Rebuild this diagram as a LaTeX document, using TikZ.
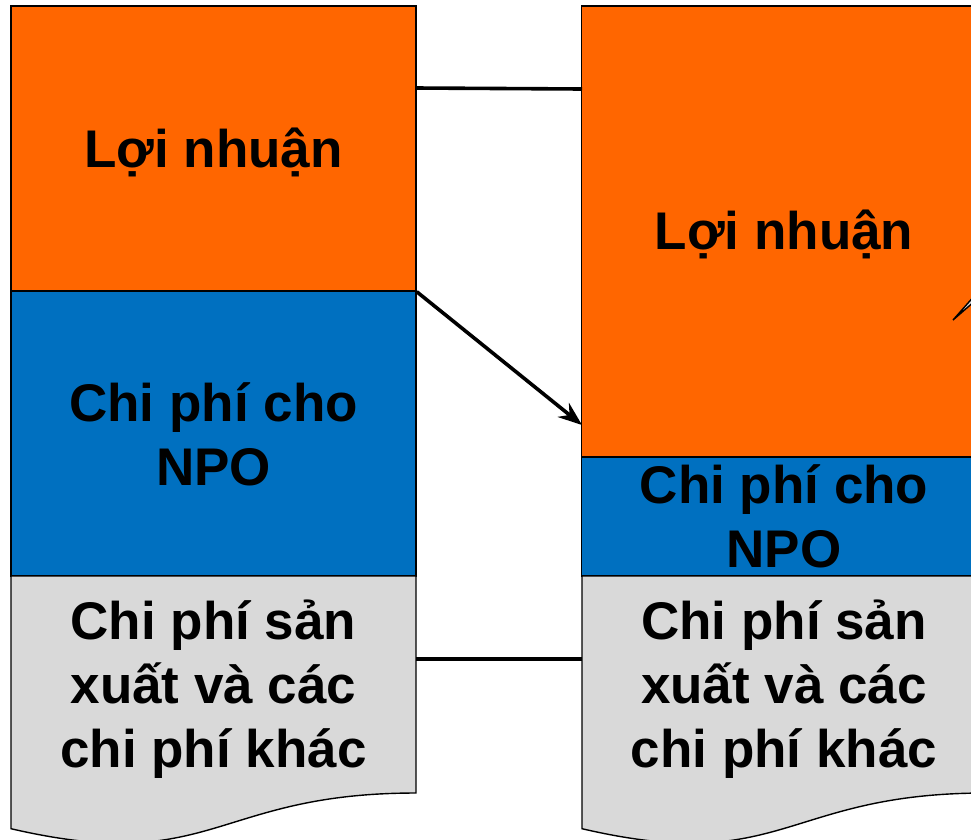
\documentclass[tikz,border=0pt]{standalone}
\usepackage{fontspec}
\setmainfont{Liberation Sans}
\usetikzlibrary{arrows.meta}
\definecolor{profit}{HTML}{FF6600}
\definecolor{npo}{HTML}{0070C0}
\definecolor{prod}{HTML}{D9D9D9}
\tikzset{
  block/.style={draw=black, line width=1.4pt, inner sep=0pt, minimum width=405pt},
  lbl/.style={font=\bfseries\fontsize{53}{64}\selectfont, align=center, text=black},
  link/.style={draw=black, line width=3.6pt},
}
\begin{document}
\begin{tikzpicture}[x=1pt,y=-1pt]
\useasboundingbox (0,0) rectangle (971,839);
\clip (0,0) rectangle (971,839);

% left column
\node[block, fill=profit, minimum height=285pt] (lprofit) at (213.5,148.5) {};
\node[block, fill=npo, minimum height=285pt] (lnpo) at (213.5,433.5) {};
\path[fill=prod, draw=black, line width=1.4pt]
  (11,576) -- (416,576) -- (416,793)
  .. controls (213.5,793) and (213.5,875.7) .. (11,828.7) -- cycle;
\node[lbl] (lprofittext) at (213.5,152) {Lợi nhuận};
\node[lbl] (lnpotext) at (213.5,434) {Chi phí cho\\NPO};
\node[lbl] (lprodtext) at (213.5,689) {Chi phí sản\\xuất và các\\chi phí khác};

% right column
\node[block, fill=profit, minimum height=451pt] (rprofit) at (784,231.5) {};
\node[block, fill=npo, minimum height=119pt] (rnpo) at (784,516.5) {};
\path[fill=prod, draw=black, line width=1.4pt]
  (582,576) -- (986,576) -- (986,793)
  .. controls (784,793) and (784,875.7) .. (582,828.7) -- cycle;
\node[lbl] (rprofittext) at (784,234) {Lợi nhuận};
\node[lbl] (rnpotext) at (784,516) {Chi phí cho\\NPO};
\node[lbl] (rprodtext) at (784,689) {Chi phí sản\\xuất và các\\chi phí khác};

% callout pointer entering from the right
\path[fill=prod, draw=black, line width=1.4pt]
  (953,320) -- (976,294) -- (976,300) -- cycle;

% connectors between the columns
\coordinate (ltop) at (416,88);
\coordinate (rtop) at (582,89);
\coordinate (rarrow) at (582,425);
\coordinate (lbot) at (416,659);
\coordinate (rbot) at (582,659);
\draw[link] (ltop) -- (rtop);
\draw[link, -{Stealth[length=24pt,width=18pt,inset=8pt]}] (lprofit.south east) -- (rarrow);
\draw[link] (lbot) -- (rbot);
\end{tikzpicture}
\end{document}
